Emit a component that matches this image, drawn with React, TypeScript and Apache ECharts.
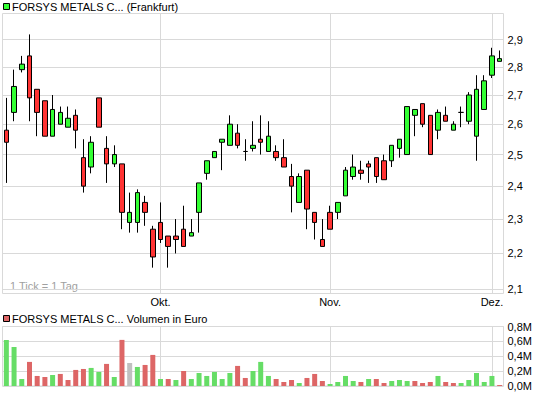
import React, { useEffect, useRef } from "react";
import * as echarts from "echarts";

// Trading days (Frankfurt), 03.09.2009 – 02.12.2009
const dates = [
  "03.09.", "04.09.", "07.09.", "08.09.", "09.09.", "10.09.", "11.09.", "14.09.", "15.09.", "16.09.",
  "17.09.", "18.09.", "21.09.", "22.09.", "23.09.", "24.09.", "25.09.", "28.09.", "29.09.", "30.09.",
  "01.10.", "02.10.", "05.10.", "06.10.", "07.10.", "08.10.", "09.10.", "12.10.", "13.10.", "14.10.",
  "15.10.", "16.10.", "19.10.", "20.10.", "21.10.", "22.10.", "23.10.", "26.10.", "27.10.", "28.10.",
  "29.10.", "30.10.", "02.11.", "03.11.", "04.11.", "05.11.", "06.11.", "09.11.", "10.11.", "11.11.",
  "12.11.", "13.11.", "16.11.", "17.11.", "18.11.", "19.11.", "20.11.", "23.11.", "24.11.", "25.11.",
  "26.11.", "27.11.", "30.11.", "01.12.", "02.12.",
];

const open = [
  2.58, 2.64, 2.79, 2.84, 2.72, 2.68, 2.56, 2.60, 2.59, 2.63,
  2.49, 2.46, 2.69, 2.52, 2.47, 2.47, 2.29, 2.29, 2.35, 2.27,
  2.29, 2.25, 2.25, 2.27, 2.25, 2.32, 2.44, 2.49, 2.54, 2.53,
  2.57, 2.51, 2.52, 2.55, 2.51, 2.51, 2.49, 2.43, 2.35, 2.45,
  2.32, 2.24, 2.32, 2.32, 2.37, 2.43, 2.45, 2.47, 2.49, 2.48,
  2.48, 2.52, 2.50, 2.63, 2.67, 2.63, 2.58, 2.63, 2.58, 2.64,
  2.61, 2.56, 2.65, 2.77, 2.82,
];
const close = [
  2.54, 2.73, 2.81, 2.69, 2.64, 2.56, 2.65, 2.64, 2.62, 2.58,
  2.40, 2.54, 2.59, 2.47, 2.50, 2.32, 2.32, 2.38, 2.32, 2.19,
  2.24, 2.22, 2.24, 2.22, 2.26, 2.41, 2.48, 2.51, 2.55, 2.60,
  2.53, 2.51, 2.53, 2.54, 2.56, 2.49, 2.46, 2.40, 2.43, 2.33,
  2.29, 2.22, 2.27, 2.35, 2.45, 2.46, 2.44, 2.46, 2.43, 2.42,
  2.53, 2.55, 2.66, 2.65, 2.60, 2.50, 2.64, 2.61, 2.60, 2.64,
  2.70, 2.72, 2.75, 2.84, 2.83,
];
const high = [
  2.69, 2.79, 2.84, 2.92, 2.72, 2.68, 2.70, 2.66, 2.66, 2.65,
  2.55, 2.56, 2.69, 2.56, 2.53, 2.47, 2.38, 2.39, 2.37, 2.28,
  2.35, 2.25, 2.30, 2.34, 2.30, 2.41, 2.48, 2.51, 2.55, 2.63,
  2.60, 2.55, 2.61, 2.63, 2.61, 2.53, 2.55, 2.47, 2.44, 2.45,
  2.32, 2.30, 2.34, 2.35, 2.46, 2.50, 2.48, 2.48, 2.49, 2.50,
  2.53, 2.55, 2.66, 2.65, 2.67, 2.63, 2.65, 2.66, 2.61, 2.66,
  2.71, 2.77, 2.77, 2.87, 2.86,
];
const low = [
  2.41, 2.61, 2.78, 2.61, 2.56, 2.56, 2.56, 2.60, 2.59, 2.52,
  2.38, 2.44, 2.59, 2.41, 2.46, 2.27, 2.26, 2.26, 2.28, 2.16,
  2.23, 2.16, 2.20, 2.22, 2.25, 2.26, 2.42, 2.49, 2.45, 2.53,
  2.52, 2.48, 2.51, 2.50, 2.51, 2.48, 2.46, 2.32, 2.35, 2.27,
  2.24, 2.22, 2.27, 2.30, 2.37, 2.42, 2.42, 2.41, 2.41, 2.42,
  2.46, 2.49, 2.50, 2.56, 2.59, 2.50, 2.55, 2.61, 2.58, 2.59,
  2.60, 2.48, 2.65, 2.76, 2.82,
];
// Volume in million euro
const volume = [
  0.62, 0.526, 0.094, 0.324, 0.135, 0.121, 0.148, 0.162, 0.081, 0.216,
  0.229, 0.243, 0.189, 0.297, 0.121, 0.62, 0.31, 0.256, 0.283, 0.418,
  0.094, 0.094, 0.081, 0.202, 0.094, 0.175, 0.135, 0.189, 0.094, 0.175,
  0.27, 0.108, 0.202, 0.324, 0.135, 0.094, 0.054, 0.081, 0.040, 0.108,
  0.162, 0.067, 0.027, 0.054, 0.135, 0.067, 0.054, 0.094, 0.094, 0.040,
  0.067, 0.081, 0.067, 0.067, 0.040, 0.054, 0.135, 0.054, 0.040, 0.040,
  0.081, 0.175, 0.054, 0.135, 0.013,
];
const prevClose = 2.5;

const priceTicks = [2.1, 2.2, 2.3, 2.4, 2.5, 2.6, 2.7, 2.8, 2.9];
const priceTickLabels = ["2,1", "2,2", "2,3", "2,4", "2,5", "2,6", "2,7", "2,8", "2,9"];
const monthCats = ["01.10.", "02.11.", "01.12."];
const monthLabels = ["Okt.", "Nov.", "Dez."];

const priceTitle = "FORSYS METALS C... (Frankfurt)";
const volumeTitle = "FORSYS METALS C... Volumen in Euro";
const tickNote = "1 Tick = 1 Tag";

const FONT = "'Liberation Sans', Arial, sans-serif";
const GRID_COLOR = "#d9d9d9";
const UP = "#33ff33";
const DOWN = "#ff3333";
const VOL_UP = "#66dd66";
const VOL_DOWN = "#dd6666";
const VOL_FLAT = "#c0c0c0";

export default function App() {
  const ref = useRef<HTMLDivElement>(null);

  useEffect(() => {
    if (!ref.current) return;
    const chart = echarts.init(ref.current, undefined, { renderer: "svg" });

    const volData = volume.map((v, i) => {
      const prev = i === 0 ? prevClose : close[i - 1];
      const c = close[i] > prev ? VOL_UP : close[i] < prev ? VOL_DOWN : VOL_FLAT;
      return { value: v, itemStyle: { color: c } };
    });

    const vLines = monthCats.map((c) => ({ xAxis: c }));

    const option: any = {
      animation: false,
      textStyle: { fontFamily: FONT },
      grid: [
        { left: 2.5, top: 13.5, width: 501, height: 280, show: true, borderColor: GRID_COLOR, borderWidth: 1, backgroundColor: "transparent" },
        { left: 2.5, top: 326.5, width: 501, height: 59.5, show: true, borderColor: GRID_COLOR, borderWidth: 1, backgroundColor: "transparent" },
      ],
      xAxis: [
        {
          type: "category",
          gridIndex: 0,
          data: dates,
          boundaryGap: true,
          axisLine: { show: false },
          axisTick: { show: false },
          splitLine: { show: false },
          axisLabel: {
            interval: (_i: number, v: string) => monthCats.indexOf(v) >= 0,
            formatter: (v: string) => monthLabels[monthCats.indexOf(v)] ?? "",
            margin: 3,
            fontSize: 11,
            color: "#000",
            fontFamily: FONT,
          },
        },
        {
          type: "category",
          gridIndex: 1,
          data: dates,
          boundaryGap: true,
          axisLine: { show: false },
          axisTick: { show: false },
          splitLine: { show: false },
          axisLabel: { show: false },
        },
      ],
      yAxis: [
        {
          type: "log",
          logBase: 10,
          gridIndex: 0,
          min: 2.089,
          max: 3.0,
          position: "right",
          axisLine: { show: false },
          axisTick: { show: false },
          axisLabel: { show: false },
          splitLine: { show: false },
        },
        {
          type: "value",
          gridIndex: 1,
          min: 0,
          max: 0.8,
          interval: 0.2,
          position: "right",
          axisLine: { show: false },
          axisTick: { show: false },
          splitLine: { show: true, lineStyle: { color: GRID_COLOR, width: 1 } },
          axisLabel: {
            formatter: (v: number) => v.toFixed(1).replace(".", ",") + "M",
            margin: 4,
            fontSize: 11,
            color: "#000",
            fontFamily: FONT,
          },
        },
      ],
      series: [
        {
          type: "candlestick",
          xAxisIndex: 0,
          yAxisIndex: 0,
          barWidth: 5,
          data: dates.map((_d, i) => [open[i], close[i], low[i], high[i]]),
          itemStyle: {
            color: UP,
            color0: DOWN,
            borderColor: "#000",
            borderColor0: "#000",
            borderColorDoji: "#000",
            borderWidth: 1,
          },
          emphasis: { disabled: true },
          markLine: {
            silent: true,
            z: 1,
            symbol: ["none", "none"],
            emphasis: { disabled: true },
            lineStyle: { color: GRID_COLOR, width: 1, type: "solid" },
            label: { show: false },
            data: [
              ...priceTicks.map((v, i) => ({
                yAxis: v,
                label: {
                  show: true,
                  position: "end",
                  formatter: priceTickLabels[i],
                  color: "#000",
                  fontSize: 11,
                  distance: 4,
                  fontFamily: FONT,
                },
              })),
              ...vLines,
            ],
          },
        },
        {
          type: "bar",
          xAxisIndex: 1,
          yAxisIndex: 1,
          barWidth: 5,
          data: volData,
          emphasis: { disabled: true },
          markLine: {
            silent: true,
            z: 1,
            symbol: ["none", "none"],
            emphasis: { disabled: true },
            lineStyle: { color: GRID_COLOR, width: 1, type: "solid" },
            label: { show: false },
            data: vLines,
          },
        },
      ],
      graphic: [
        {
          type: "rect",
          shape: { x: 3.5, y: 3.5, width: 6, height: 6 },
          style: { fill: UP, stroke: "#000", lineWidth: 1 },
        },
        {
          type: "text",
          x: 12,
          y: 7,
          style: { text: priceTitle, fill: "#000", font: `11px ${FONT}`, verticalAlign: "middle", align: "left" },
        },
        {
          type: "rect",
          shape: { x: 3.5, y: 315.5, width: 6, height: 6 },
          style: { fill: VOL_DOWN, stroke: "#000", lineWidth: 1 },
        },
        {
          type: "text",
          x: 12,
          y: 319,
          style: { text: volumeTitle, fill: "#000", font: `11px ${FONT}`, verticalAlign: "middle", align: "left" },
        },
        {
          type: "text",
          x: 10,
          y: 286,
          style: { text: tickNote, fill: "#a0a0a0", font: `11px ${FONT}`, verticalAlign: "middle", align: "left" },
        },
      ],
    };

    chart.setOption(option);
    return () => chart.dispose();
  }, []);

  return (
    <div
      ref={ref}
      style={{ position: "fixed", left: 0, top: 0, width: 545, height: 395, background: "#fff" }}
    />
  );
}
